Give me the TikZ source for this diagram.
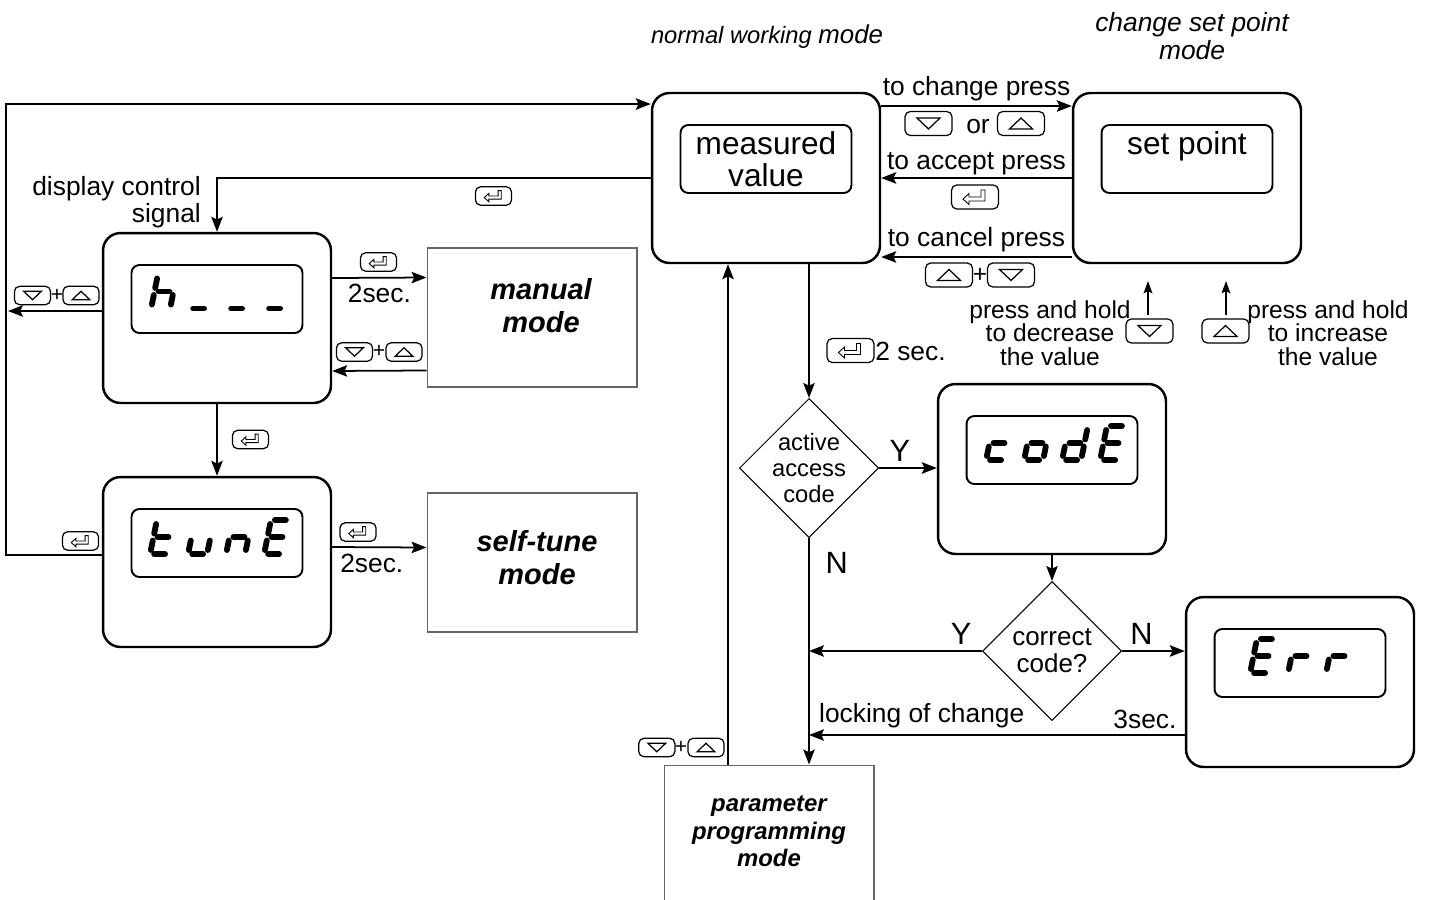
\documentclass[tikz,border=0pt]{standalone}
\usepackage{fontspec}
\setmainfont{Liberation Sans}
\usetikzlibrary{arrows.meta,shapes.geometric,calc,positioning}

\tikzset{
  disp/.style={draw,line width=1.4pt,rounded corners=10pt,minimum width=4.56cm,minimum height=3.4cm},
  lcd/.style={draw,line width=1.1pt,rounded corners=4.5pt,minimum width=3.42cm,minimum height=1.36cm,
    inner sep=0pt,align=center,font=\fontsize{18}{18}\selectfont},
  modebox/.style={draw=black!60,line width=.6pt,minimum width=4.2cm,minimum height=2.78cm},
  modetxt/.style={align=center,font=\fontsize{16.5}{18.7}\selectfont\bfseries\itshape},
  decision/.style={draw,diamond,line width=.6pt,minimum width=2.78cm,minimum height=2.78cm,inner sep=0pt},
  dtext/.style={align=center,font=\fontsize{13.5}{14.7}\selectfont},
  arr/.style={line width=1pt,-{Stealth[length=8.5pt,width=6.5pt,inset=1.5pt]}},
  arrs/.style={line width=1pt,-{Stealth[length=7pt,width=5pt,inset=1.2pt]}},
  lbl/.style={font=\fontsize{15}{15.3}\selectfont},
  ttl/.style={font=\fontsize{13.5}{16}\selectfont\itshape},
  yn/.style={font=\fontsize{17.5}{18}\selectfont,inner sep=3pt},
  plus/.style={font=\fontsize{12}{12}\selectfont,inner sep=0pt},
  segline/.style={line width=3.3pt,line cap=round},
  keyline/.style={line width=.7pt},
  % one digit of the led display, #1 = list of lit segments
  sseg/.pic={
    \begin{scope}[xslant=.2]
      \coordinate (a1) at (-5.5,-17); \coordinate (a2) at (5.5,-17);
      \coordinate (b1) at (9.5,-13);    \coordinate (b2) at (9.5,-3.5);
      \coordinate (c1) at (9.5,3.5);    \coordinate (c2) at (9.5,13);
      \coordinate (d1) at (-5.5,17);  \coordinate (d2) at (5.5,17);
      \coordinate (e1) at (-9.5,3.5);   \coordinate (e2) at (-9.5,13);
      \coordinate (f1) at (-9.5,-13);   \coordinate (f2) at (-9.5,-3.5);
      \coordinate (g1) at (-5.5,0);     \coordinate (g2) at (5.5,0);
      \foreach \q in {#1} \draw[segline] (\q1) -- (\q2);
    \end{scope}
  },
  keydn/.pic={
    \draw[keyline,rounded corners=3pt] (-23.5,-12) rectangle (23.5,12);
    \draw[keyline] (-11.5,-5.5) -- (11.5,-5.5) -- (0,5.5) -- cycle;
  },
  keyup/.pic={
    \draw[keyline,rounded corners=3pt] (-23.5,-12) rectangle (23.5,12);
    \draw[keyline] (-11.5,5.5) -- (11.5,5.5) -- (0,-5.5) -- cycle;
  },
  keyent/.pic={
    \draw[keyline,rounded corners=3pt] (-23.5,-12) rectangle (23.5,12);
    \draw[line width=.5pt] (-12,2) -- (-6,-3.5) -- (-6,0) -- (6,0) -- (6,-7) -- (10,-7)
      -- (10,4) -- (-6,4) -- (-6,7.5) -- cycle;
  },
}

\begin{document}
\begin{tikzpicture}[x=0.02cm,y=-0.02cm]
\useasboundingbox (0,0) rectangle (1432,899);
\clip (0,0) rectangle (1432,899);

% titles
\node[ttl] (nwm) at (767,37) {normal working \fontsize{14.7}{16}\selectfont mode};
\node[ttl,align=center,font=\fontsize{15}{16}\selectfont\itshape] (csp) at (1192,36) {change set point\\mode};

% displays
\node[disp] (mv) at (766,178) {};
\node[lcd] (mvlcd) at ($(mv)+(0,-19)$) {measured\\value};
\node[disp] (sp) at (1187,178) {};
\node[lcd] (splcd) at ($(sp)+(0,-19)$) {set point\\\mbox{}};
\node[disp] (hd) at (217,318) {};
\node[lcd] (hdlcd) at ($(hd)+(0,-19)$) {};
\node[disp] (tn) at (217,562) {};
\node[lcd] (tnlcd) at ($(tn)+(0,-19)$) {};
\node[disp] (cd) at (1052,469) {};
\node[lcd] (cdlcd) at ($(cd)+(0,-19)$) {};
\node[disp] (er) at (1300,682) {};
\node[lcd] (erlcd) at ($(er)+(0,-19)$) {};

% digits
\pic at (164,291.5) {sseg={f,e,g,c}};
\pic at (202,291.5) {sseg={d}};
\pic at (240,291.5) {sseg={d}};
\pic at (278,291.5) {sseg={d}};
\pic at (163,537) {sseg={f,e,g,d}};
\pic at (201,537) {sseg={e,d,c}};
\pic at (239,537) {sseg={e,g,c}};
\pic at (277,537) {sseg={a,f,g,e,d}};
\pic at (999,443) {sseg={g,e,d}};
\pic at (1037,443) {sseg={g,e,d,c}};
\pic at (1075,443) {sseg={b,g,e,d,c}};
\pic at (1113,443) {sseg={a,f,g,e,d}};
\pic at (1263,656) {sseg={a,f,g,e,d}};
\pic at (1301,656) {sseg={e,g}};
\pic at (1339,656) {sseg={e,g}};

% mode boxes
\node[modebox] (man) at (532,317.5) {};
\node[modetxt] (mantxt) at ($(man)+(9,-12)$) {manual\\mode};
\node[modebox] (st) at (532,562.5) {};
\node[modetxt] (sttxt) at ($(st)+(5,-5)$) {self-tune\\mode};
\node[modebox] (pp) at (769,834.5) {};
\node[modetxt,font=\fontsize{13.6}{15.6}\selectfont\bfseries\itshape] (pptxt) at ($(pp)+(0,-3)$) {parameter\\programming\\mode};

% decisions
\node[decision] (ac) at (809,468) {};
\node[dtext] (actxt) at (ac) {active\\access\\code};
\node[decision] (cc) at (1052,651) {};
\node[dtext,font=\fontsize{14.8}{15.3}\selectfont] (cctxt) at (cc) {correct\\code?};

% set point loop
\draw[arr] ([yshift=1.44cm]mv.east) -- node[lbl,above,inner sep=2.5pt] (chg) {to change press} ([yshift=1.44cm]sp.west);
\draw[arr] (sp.west) -- node[lbl,above,inner sep=1pt] (acc) {to accept press} (mv.east);
\draw[arr] ([yshift=-1.58cm]sp.west) -- node[lbl,above,inner sep=2.5pt] (cnc) {to cancel press} ([yshift=-1.58cm]mv.east);
\pic at (928.5,123.5) {keydn};
\node[lbl] (ortxt) at (978,127) {or};
\pic at (1021,123.5) {keyup};
\pic at (975,197) {keyent};
\pic at (949,275) {keyup};
\node[plus,font=\fontsize{14}{14}\selectfont] (pl1) at (980,275) {+};
\pic at (1011,275) {keydn};

\coordinate (hdn) at (1148,315);
\coordinate (hup) at (1226,315);
\draw[arrs] (hdn) -- ++(0,-34);
\draw[arrs] (hup) -- ++(0,-34);
\pic at (1149.5,331) {keydn};
\pic at (1225.5,331) {keyup};
\node[lbl,align=center,font=\fontsize{14}{13.5}\selectfont] (dec) at (1050,333) {press and hold\\to decrease\\the value};
\node[lbl,align=center,font=\fontsize{14}{13.5}\selectfont] (inc) at (1328,333) {press and hold\\to increase\\the value};

% left side
\draw[arr] (mv.west) -| (hd.north);
\pic[scale=.77] at (493.5,196) {keyent};
\node[lbl,anchor=east,align=right] (dcs) at (207,202) {display control\\signal};

\draw[arr] ([yshift=.14cm]tn.west) -- ++(-96,0) |- ([yshift=1.48cm]mv.west);
\pic[scale=.77] at (80.5,541) {keyent};

\coordinate (lout) at (8,311);
\draw[arr] ([yshift=.14cm]hd.west) -- (lout);
\pic[scale=.77] at (32.5,295.5) {keydn};
\node[plus] (pl2) at (57,295) {+};
\pic[scale=.77] at (81,295.5) {keyup};

\draw[arr] ([yshift=.8cm]hd.east) -- node[lbl,below] (t2a) {2sec.} ([yshift=.8cm]man.west);
\pic[scale=.77] at (378.5,262) {keyent};
\draw[arr] ([yshift=-1.06cm]man.west) -- ([yshift=-1.06cm]hd.east);
\pic[scale=.77] at (354.5,352) {keydn};
\node[plus] (pl3) at (379,351) {+};
\pic[scale=.77] at (404,352) {keyup};

\draw[arr] (hd.south) -- (tn.north);
\pic[scale=.77] at (250.5,439.5) {keyent};

\draw[arr] ([yshift=.3cm]tn.east) -- node[lbl,below,pos=.42] (t2b) {2sec.} ([yshift=.3cm]st.west);
\pic[scale=.77] at (358,532) {keyent};

% centre column
\draw[arr] (mv.south -| ac.north) -- (ac.north);
\pic at (850.5,350.5) {keyent};
\node[lbl,anchor=west,inner sep=0pt] (two) at (875,351) {2 sec.};

\coordinate (upb) at ([xshift=-.82cm]pp.north);
\draw[arr] (upb) -- (upb |- mv.south);
\pic[scale=.77] at (656.8,747.5) {keydn};
\node[plus] (pl4) at (681,747) {+};
\pic[scale=.77] at (706,747.5) {keyup};

\draw[arr] (ac.south) -- node[yn,pos=.11,right=6pt] (n1) {N} (ac.south |- pp.north);
\draw[arr] (ac.east) -- node[yn,pos=.36,above] (y1) {Y} (ac.east -| cd.west);
\draw[arr] (cd.south) -- (cc.north);
\draw[arr] (cc.west) -- node[yn,pos=.12,above] (y2) {Y} (cc.west -| ac.south);
\draw[arr] (cc.east) -- node[yn,pos=.31,above] (n2) {N} (cc.east -| er.west);
\coordinate (lk) at ([yshift=-1.06cm]er.west);
\draw[arr] (lk) -- node[lbl,pos=.106,above] (t3) {3sec.} node[lbl,pos=.70,above] (lck) {locking of change} (lk -| ac.south);
\end{tikzpicture}
\end{document}
